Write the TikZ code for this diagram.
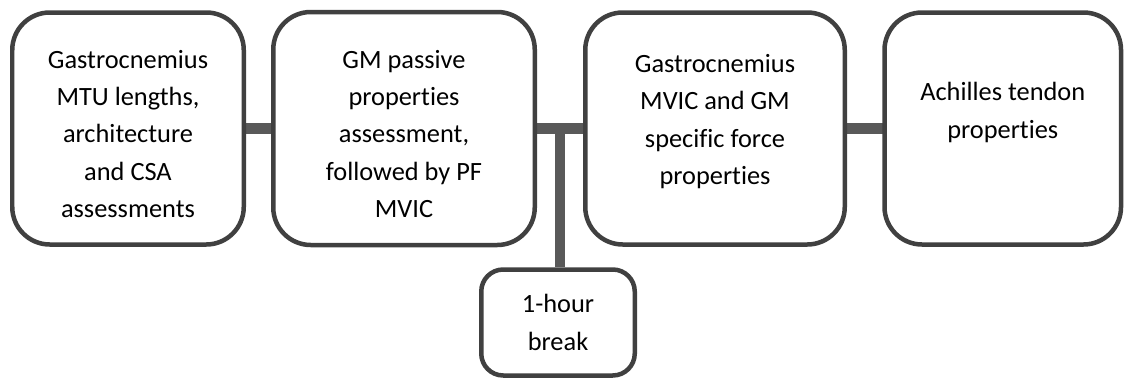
\documentclass[tikz,border=0pt]{standalone}
\usepackage{fontspec}
\setmainfont{Carlito}[Ligatures=NoCommon]
\usetikzlibrary{positioning, calc}

\definecolor{edgegray}{HTML}{404040}
\definecolor{linkgray}{HTML}{595959}

\begin{document}
\begin{tikzpicture}[
    every node/.style={align=center, font=\fontsize{15}{21.3}\selectfont},
    stage/.style={rectangle, rounded corners=7.5mm, draw=edgegray, fill=white, line width=0.09cm, minimum width=4.7cm, minimum height=4.64cm},
    pause/.style={rectangle, rounded corners=4.4mm, draw=edgegray, fill=white, line width=0.09cm, minimum width=3.07cm, minimum height=2.12cm},
    link/.style={draw=linkgray, line width=0.21cm}
]
\useasboundingbox (0,0) rectangle (22.5,-7.56);

% --- Connectores (detras de las cajas)
\coordinate (b1c) at (2.56,-2.57);
\coordinate (b2c) at (8.08,-2.57);
\coordinate (b3c) at (14.30,-2.57);
\coordinate (b4c) at (20.055,-2.57);
\coordinate (jct) at (11.20,-2.57);
\draw[link] (b1c) -- (b2c);
\draw[link] (b2c) -- (b3c);
\draw[link] (b3c) -- (b4c);

% --- Cajas principales
\node[stage, minimum width=4.63cm, text height=101.7pt] (b1) at (b1c) {Gastrocnemius\\MTU lengths,\\architecture\\and CSA\\assessments};
\node[stage, minimum width=5.23cm, minimum height=4.66cm, text height=101.7pt] (b2) at (b2c) {GM passive\\properties\\assessment,\\followed by PF\\MVIC};
\node[stage, minimum width=5.19cm, text depth=10.5pt] (b3) at (b3c) {Gastrocnemius\\MVIC and GM\\specific force\\properties};
\node[stage, minimum width=4.73cm, text depth=20.5pt] (b4) at (b4c) {Achilles tendon\\properties};

% --- Pausa
\node[pause] (brk) at (11.16,-6.45) {1-hour\\break};
\draw[link] (jct) -- (jct |- brk.north);

\end{tikzpicture}
\end{document}
